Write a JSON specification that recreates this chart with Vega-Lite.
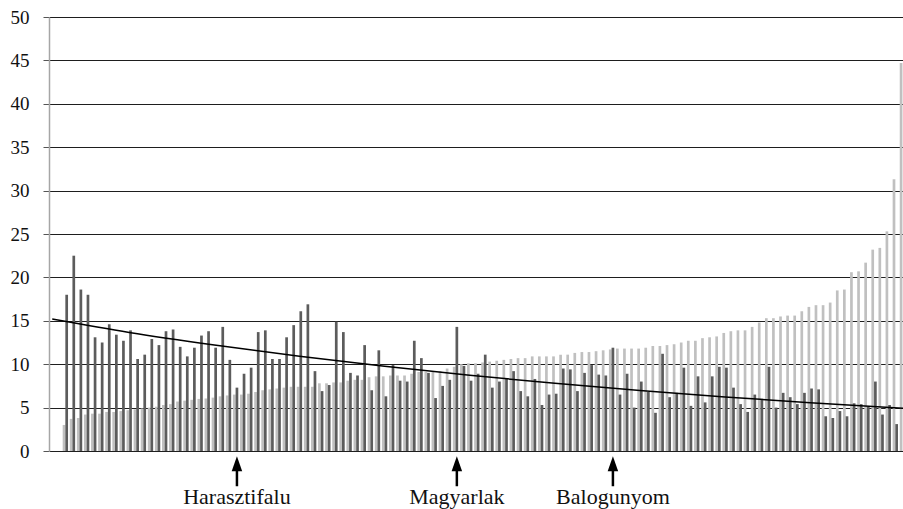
{
  "$schema": "https://vega.github.io/schema/vega-lite/v6.json",
  "width": 854,
  "height": 434,
  "autosize": {"type": "none"},
  "padding": {"left": 49, "top": 17, "right": 0, "bottom": 58},
  "background": "white",
  "config": {"view": {"stroke": null}},
  "datasets": {
    "light": [
      {"c":1,"v":3.0},{"c":2,"v":3.7},{"c":3,"v":3.8},{"c":4,"v":4.2},{"c":5,"v":4.3},{"c":6,"v":4.3},{"c":7,"v":4.5},{"c":8,"v":4.5},{"c":9,"v":4.6},{"c":10,"v":4.7},
      {"c":11,"v":4.8},{"c":12,"v":4.9},{"c":13,"v":5.0},{"c":14,"v":5.1},{"c":15,"v":5.3},{"c":16,"v":5.4},{"c":17,"v":5.7},{"c":18,"v":5.8},{"c":19,"v":5.9},{"c":20,"v":6.0},
      {"c":21,"v":6.05},{"c":22,"v":6.15},{"c":23,"v":6.3},{"c":24,"v":6.4},{"c":25,"v":6.5},{"c":26,"v":6.5},{"c":27,"v":6.6},{"c":28,"v":6.8},{"c":29,"v":7.0},{"c":30,"v":7.1},
      {"c":31,"v":7.2},{"c":32,"v":7.3},{"c":33,"v":7.4},{"c":34,"v":7.4},{"c":35,"v":7.4},{"c":36,"v":7.4},{"c":37,"v":7.8},{"c":38,"v":7.8},{"c":39,"v":7.9},{"c":40,"v":7.9},
      {"c":41,"v":8.1},{"c":42,"v":8.2},{"c":43,"v":8.2},{"c":44,"v":8.5},{"c":45,"v":8.6},{"c":46,"v":8.6},{"c":47,"v":8.7},{"c":48,"v":8.7},{"c":49,"v":8.7},{"c":50,"v":8.9},
      {"c":51,"v":9.1},{"c":52,"v":9.1},{"c":53,"v":9.2},{"c":54,"v":9.2},{"c":55,"v":9.5},{"c":56,"v":9.7},{"c":57,"v":10.0},{"c":58,"v":10.1},{"c":59,"v":10.1},{"c":60,"v":10.2},
      {"c":61,"v":10.3},{"c":62,"v":10.4},{"c":63,"v":10.5},{"c":64,"v":10.6},{"c":65,"v":10.7},{"c":66,"v":10.7},{"c":67,"v":10.9},{"c":68,"v":10.9},{"c":69,"v":10.9},{"c":70,"v":10.9},
      {"c":71,"v":11.1},{"c":72,"v":11.1},{"c":73,"v":11.3},{"c":74,"v":11.4},{"c":75,"v":11.4},{"c":76,"v":11.5},{"c":77,"v":11.6},{"c":78,"v":11.7},{"c":79,"v":11.8},{"c":80,"v":11.8},
      {"c":81,"v":11.8},{"c":82,"v":11.8},{"c":83,"v":11.9},{"c":84,"v":12.1},{"c":85,"v":12.1},{"c":86,"v":12.2},{"c":87,"v":12.3},{"c":88,"v":12.5},{"c":89,"v":12.7},{"c":90,"v":12.7},
      {"c":91,"v":13.0},{"c":92,"v":13.1},{"c":93,"v":13.2},{"c":94,"v":13.6},{"c":95,"v":13.8},{"c":96,"v":13.9},{"c":97,"v":13.9},{"c":98,"v":14.3},{"c":99,"v":14.8},{"c":100,"v":15.3},
      {"c":101,"v":15.3},{"c":102,"v":15.5},{"c":103,"v":15.6},{"c":104,"v":15.6},{"c":105,"v":16.1},{"c":106,"v":16.6},{"c":107,"v":16.8},{"c":108,"v":16.8},{"c":109,"v":17.1},{"c":110,"v":18.5},
      {"c":111,"v":18.6},{"c":112,"v":20.6},{"c":113,"v":20.7},{"c":114,"v":21.7},{"c":115,"v":23.2},{"c":116,"v":23.4},{"c":117,"v":25.3},{"c":118,"v":31.3},{"c":119,"v":44.7}
    ],
    "dark": [
      {"c":1,"v":18.0},{"c":2,"v":22.5},{"c":3,"v":18.6},{"c":4,"v":18.0},{"c":5,"v":13.1},{"c":6,"v":12.5},{"c":7,"v":14.6},{"c":8,"v":13.4},{"c":9,"v":12.7},{"c":10,"v":13.9},
      {"c":11,"v":10.6},{"c":12,"v":11.1},{"c":13,"v":12.9},{"c":14,"v":12.2},{"c":15,"v":13.8},{"c":16,"v":14.0},{"c":17,"v":12.0},{"c":18,"v":10.9},{"c":19,"v":11.9},{"c":20,"v":13.3},
      {"c":21,"v":13.8},{"c":22,"v":11.9},{"c":23,"v":14.3},{"c":24,"v":10.5},{"c":25,"v":7.3},{"c":26,"v":8.9},{"c":27,"v":9.6},{"c":28,"v":13.7},{"c":29,"v":13.9},{"c":30,"v":10.6},
      {"c":31,"v":10.6},{"c":32,"v":13.1},{"c":33,"v":14.5},{"c":34,"v":16.1},{"c":35,"v":16.9},{"c":36,"v":9.2},{"c":37,"v":6.9},{"c":38,"v":7.6},{"c":39,"v":14.9},{"c":40,"v":13.7},
      {"c":41,"v":9.0},{"c":42,"v":8.7},{"c":43,"v":12.2},{"c":44,"v":7.0},{"c":45,"v":11.6},{"c":46,"v":6.3},{"c":47,"v":9.9},{"c":48,"v":8.1},{"c":49,"v":8.0},{"c":50,"v":12.7},
      {"c":51,"v":10.7},{"c":52,"v":9.0},{"c":53,"v":6.1},{"c":54,"v":7.5},{"c":55,"v":8.2},{"c":56,"v":14.3},{"c":57,"v":9.8},{"c":58,"v":8.1},{"c":59,"v":8.9},{"c":60,"v":11.1},
      {"c":61,"v":7.3},{"c":62,"v":8.0},{"c":63,"v":8.4},{"c":64,"v":9.2},{"c":65,"v":6.9},{"c":66,"v":6.3},{"c":67,"v":8.3},{"c":68,"v":5.3},{"c":69,"v":6.5},{"c":70,"v":6.6},
      {"c":71,"v":9.5},{"c":72,"v":9.4},{"c":73,"v":6.9},{"c":74,"v":9.0},{"c":75,"v":9.9},{"c":76,"v":8.8},{"c":77,"v":8.7},{"c":78,"v":11.9},{"c":79,"v":6.5},{"c":80,"v":8.9},
      {"c":81,"v":5.0},{"c":82,"v":8.0},{"c":83,"v":6.8},{"c":84,"v":4.4},{"c":85,"v":11.2},{"c":86,"v":6.2},{"c":87,"v":6.7},{"c":88,"v":9.6},{"c":89,"v":5.2},{"c":90,"v":8.6},
      {"c":91,"v":5.6},{"c":92,"v":8.6},{"c":93,"v":9.7},{"c":94,"v":9.6},{"c":95,"v":7.3},{"c":96,"v":5.4},{"c":97,"v":4.5},{"c":98,"v":6.5},{"c":99,"v":5.9},{"c":100,"v":9.7},
      {"c":101,"v":5.0},{"c":102,"v":6.7},{"c":103,"v":6.2},{"c":104,"v":5.4},{"c":105,"v":6.7},{"c":106,"v":7.2},{"c":107,"v":7.1},{"c":108,"v":4.0},{"c":109,"v":3.8},{"c":110,"v":4.6},
      {"c":111,"v":4.0},{"c":112,"v":5.5},{"c":113,"v":5.4},{"c":114,"v":5.1},{"c":115,"v":8.0},{"c":116,"v":4.2},{"c":117,"v":5.3},{"c":118,"v":3.1}
    ],
    "trend": [
      {"c": -0.85, "v": 15.2}, {"c": 10, "v": 13.66}, {"c": 22, "v": 12.21}, {"c": 34, "v": 10.92},
      {"c": 46, "v": 9.76}, {"c": 58, "v": 8.72}, {"c": 70, "v": 7.8}, {"c": 82, "v": 6.97},
      {"c": 94, "v": 6.23}, {"c": 106, "v": 5.57}, {"c": 119.08, "v": 4.93}
    ],
    "notes": [
      {"c": 25, "name": "Harasztifalu"},
      {"c": 56, "name": "Magyarlak"},
      {"c": 78, "name": "Balogunyom"}
    ]
  },
  "encoding": {
    "x": {"field": "c", "type": "quantitative", "scale": {"domain": [-1.306, 119.08], "nice": false, "zero": false, "padding": 0}, "axis": null}
  },
  "layer": [
    {
      "data": {"name": "light"},
      "mark": {"type": "bar", "color": "#c0c0c0", "width": 2.7, "xOffset": -1.33},
      "encoding": {
        "y": {"field": "v", "type": "quantitative", "scale": {"domain": [0, 50], "nice": false}, "axis": {"title": null, "values": [0,5,10,15,20,25,30,35,40,45,50], "grid": true, "gridColor": "#1e1e1e", "gridWidth": 1, "gridOpacity": 1, "domainColor": "#a6a6a6", "domainWidth": 1.5, "tickColor": "#555555", "tickSize": 6, "tickWidth": 1, "labelFont": "Liberation Serif", "labelFontSize": 19, "labelFontWeight": "normal", "labelColor": "#111111", "labelPadding": 14}}
      }
    },
    {
      "data": {"name": "dark"},
      "mark": {"type": "bar", "color": "#5c5c5c", "width": 2.7, "xOffset": 1.33},
      "encoding": {
        "y": {"field": "v", "type": "quantitative"}
      }
    },
    {
      "data": {"name": "trend"},
      "mark": {"type": "line", "color": "#000000", "strokeWidth": 1.5, "interpolate": "monotone"},
      "encoding": {
        "y": {"field": "v", "type": "quantitative"}
      }
    },
    {
      "data": {"name": "notes"},
      "mark": {"type": "rule", "color": "#000000", "strokeWidth": 2.5, "xOffset": 1.33},
      "encoding": {
        "y": {"datum": -2.2},
        "y2": {"datum": -4.06}
      }
    },
    {
      "data": {"name": "notes"},
      "mark": {"type": "point", "shape": "M0,-1L0.7,1L-0.7,1Z", "filled": true, "size": 225, "color": "#000000", "opacity": 1, "xOffset": 1.33},
      "encoding": {
        "y": {"datum": -1.47}
      }
    },
    {
      "data": {"name": "notes"},
      "mark": {"type": "text", "font": "Liberation Serif", "fontSize": 22, "fontWeight": "normal", "baseline": "alphabetic", "align": "center", "color": "#111111", "xOffset": 1.33},
      "encoding": {
        "y": {"datum": -6.1},
        "text": {"field": "name"}
      }
    }
  ]
}
